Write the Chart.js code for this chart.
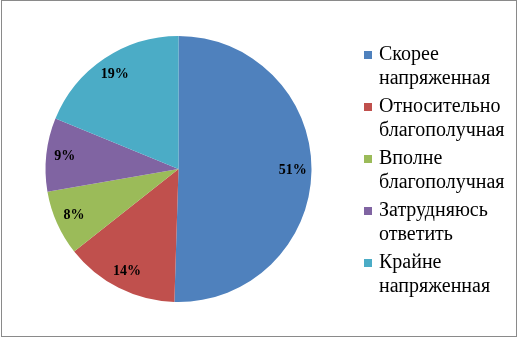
<!DOCTYPE html>
<html>
<head>
<meta charset="utf-8">
<script src="https://cdn.jsdelivr.net/npm/chart.js@4"></script>
<style>
  html, body { margin: 0; padding: 0; background: #fff; }
  #frame {
    position: absolute; left: 1px; top: 0px;
    width: 514px; height: 335px;
    border: 1px solid #8a8a8a;
  }
  canvas { display: block; }
</style>
</head>
<body>
<div id="frame"><canvas id="pie" width="514" height="335"></canvas></div>
<script>
var categories = [
  ["Скорее", "напряженная"],
  ["Относительно", "благополучная"],
  ["Вполне", "благополучная"],
  ["Затрудняюсь", "ответить"],
  ["Крайне", "напряженная"]
];
var percents = [51, 14, 8, 9, 19];
var colors = ['#4F81BD', '#C0504D', '#9BBB59', '#8064A2', '#4BACC6'];

// percent labels inside each slice
var sliceLabels = {
  id: 'sliceLabels',
  afterDatasetsDraw: function(chart) {
    var ctx = chart.ctx;
    var meta = chart.getDatasetMeta(0);
    ctx.save();
    ctx.font = 'bold 14px "Liberation Serif", "Times New Roman", serif';
    ctx.fillStyle = '#000';
    ctx.textAlign = 'center';
    ctx.textBaseline = 'middle';
    meta.data.forEach(function(arc, i) {
      var mid = (arc.startAngle + arc.endAngle) / 2;
      var r = arc.outerRadius * 0.86;
      ctx.fillText(percents[i] + '%', arc.x + Math.cos(mid) * r, arc.y + Math.sin(mid) * r);
    });
    ctx.restore();
  }
};

// legend on the right, two lines per entry, drawn on the canvas
var sideLegend = {
  id: 'sideLegend',
  afterDraw: function(chart) {
    var ctx = chart.ctx;
    var bg = chart.data.datasets[0].backgroundColor;
    var x = 362, y = 54;
    ctx.save();
    ctx.font = '20px "Liberation Serif", "Times New Roman", serif';
    ctx.textAlign = 'left';
    ctx.textBaseline = 'middle';
    chart.data.labels.forEach(function(lines, i) {
      ctx.fillStyle = bg[i];
      ctx.fillRect(x, y - 4, 8, 8);
      ctx.fillStyle = '#000';
      lines.forEach(function(line, j) {
        ctx.fillText(line, x + 15, y + j * 24);
      });
      y += lines.length * 24 + 4;
    });
    ctx.restore();
  }
};

var pieChart = new Chart(document.getElementById('pie'), {
  type: 'pie',
  data: {
    labels: categories,
    datasets: [{
      data: percents,
      backgroundColor: colors,
      borderWidth: 0
    }]
  },
  options: {
    responsive: false,
    animation: false,
    layout: {
      padding: { left: 43, top: 35, bottom: 34, right: 204 }
    },
    plugins: {
      tooltip: { enabled: false },
      legend: { display: false }
    }
  },
  plugins: [sliceLabels, sideLegend]
});
</script>
</body>
</html>
